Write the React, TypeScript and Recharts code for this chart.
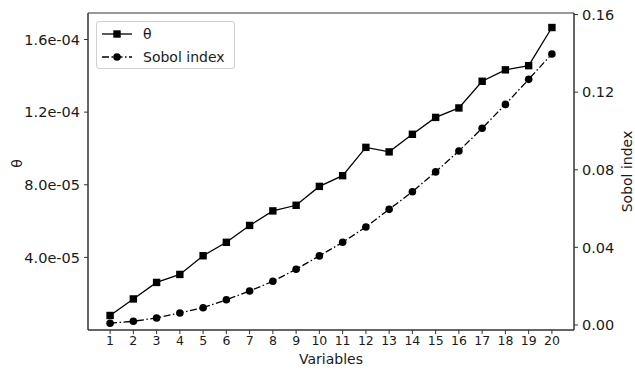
import {
  ComposedChart,
  Line,
  XAxis,
  YAxis,
  Legend,
  ReferenceArea,
} from 'recharts';

const variables = [1, 2, 3, 4, 5, 6, 7, 8, 9, 10, 11, 12, 13, 14, 15, 16, 17, 18, 19, 20];
const thetaValues = [
  8.0e-6, 1.71e-5, 2.62e-5, 3.06e-5, 4.09e-5, 4.83e-5, 5.76e-5, 6.56e-5, 6.87e-5, 7.91e-5,
  8.5e-5, 1.006e-4, 9.81e-5, 1.078e-4, 1.171e-4, 1.223e-4, 1.37e-4, 1.433e-4, 1.456e-4, 1.666e-4,
];
const sobolValues = [
  0.0009, 0.0019, 0.0036, 0.0062, 0.0089, 0.013, 0.0175, 0.0225, 0.0287, 0.0356,
  0.0426, 0.0505, 0.0596, 0.0687, 0.0789, 0.0897, 0.1014, 0.1137, 0.1266, 0.1397,
];
const thetaTicks = [4e-5, 8e-5, 1.2e-4, 1.6e-4];
const sobolTicks = [0, 0.04, 0.08, 0.12, 0.16];

const data = variables.map((v, i) => ({ v, theta: thetaValues[i], sobol: sobolValues[i] }));

const FONT = '"DejaVu Sans", sans-serif';
const INK = '#1a1a1a';
const SPINE = '#333';
const THETA_MAX = 1.746e-4;
const DASH_DOT = '7 2.5 1.5 2.5';

// 4e-5 -> "4.0e-05"
const sci = (v: number) => {
  const [m, e] = v.toExponential(1).split('e');
  const n = parseInt(e, 10);
  return `${m}e${n < 0 ? '-' : '+'}${String(Math.abs(n)).padStart(2, '0')}`;
};

// rotated axis title placed at a fixed x inside the axis box
const AxisTitle = (text: string, dxFromLeft: number, dy = 0) => (props: any) => {
  const vb = props.viewBox || {};
  const x = vb.x + dxFromLeft;
  const y = vb.y + vb.height / 2 + dy;
  return (
    <text
      x={x}
      y={y}
      transform={`rotate(-90, ${x}, ${y})`}
      textAnchor="middle"
      dominantBaseline="central"
      fill={INK}
      fontSize={14}
      fontFamily={FONT}
    >
      {text}
    </text>
  );
};

const Square = (props: any) => {
  const { cx, cy, index } = props;
  if (cx == null || cy == null) return <g key={`sq-${index}`} />;
  return <rect key={`sq-${index}`} x={cx - 3.7} y={cy - 3.7} width={7.4} height={7.4} fill="#000" />;
};

const Dot = (props: any) => {
  const { cx, cy, index } = props;
  if (cx == null || cy == null) return <g key={`ci-${index}`} />;
  return <circle key={`ci-${index}`} cx={cx} cy={cy} r={3.8} fill="#000" />;
};

const LegendBox = () => (
  <div
    style={{
      width: 137,
      height: 46,
      border: '1px solid #d0d0d0',
      borderRadius: 3,
      background: 'rgba(255,255,255,0.8)',
      fontFamily: FONT,
      fontSize: 14,
      color: INK,
      position: 'relative',
    }}
  >
    <svg width={40} height={46} style={{ position: 'absolute', left: 0, top: 0 }}>
      <line x1={5} x2={35} y1={12} y2={12} stroke="#000" strokeWidth={1.3} />
      <rect x={16.3} y={8.3} width={7.4} height={7.4} fill="#000" />
      <line x1={5} x2={35} y1={35} y2={35} stroke="#000" strokeWidth={1.3} strokeDasharray={DASH_DOT} />
      <circle cx={20} cy={35} r={3.8} fill="#000" />
    </svg>
    <div style={{ position: 'absolute', left: 46, top: 2, lineHeight: '20px' }}>θ</div>
    <div style={{ position: 'absolute', left: 46, top: 25, lineHeight: '20px' }}>Sobol index</div>
  </div>
);

export default function App() {
  return (
    <div style={{ position: 'absolute', left: 0, top: 0, background: '#fff' }}>
      <ComposedChart
        width={635}
        height={373}
        data={data}
        margin={{ top: 13, right: 0, bottom: 0, left: 0 }}
        style={{ fontFamily: FONT }}
      >
        <XAxis
          dataKey="v"
          type="number"
          domain={[0.05, 20.95]}
          ticks={variables}
          allowDataOverflow
          height={43}
          tickSize={4}
          tickMargin={2}
          stroke={SPINE}
          tick={{ fill: INK, fontSize: 12.5 }}
          label={{ value: 'Variables', position: 'insideBottom', offset: 9, fill: INK, fontSize: 14 }}
        />
        <YAxis
          yAxisId="theta"
          domain={[0, THETA_MAX]}
          ticks={thetaTicks}
          allowDataOverflow
          width={88}
          tickSize={4}
          tickMargin={4}
          stroke={SPINE}
          tickFormatter={sci}
          tick={{ fill: INK, fontSize: 14.5 }}
          label={AxisTitle('θ', 17, -8)}
        />
        <YAxis
          yAxisId="sobol"
          orientation="right"
          domain={[-0.0026, 0.1608]}
          ticks={sobolTicks}
          allowDataOverflow
          width={61}
          tickSize={4}
          tickMargin={4}
          stroke={SPINE}
          tickFormatter={(v: number) => v.toFixed(2)}
          tick={{ fill: INK, fontSize: 14.5 }}
          label={AxisTitle('Sobol index', 53)}
        />
        <ReferenceArea
          yAxisId="theta"
          x1={0.05}
          x2={20.95}
          y1={0}
          y2={THETA_MAX}
          fill="none"
          stroke={SPINE}
          strokeWidth={1}
          ifOverflow="visible"
        />
        <Line
          yAxisId="theta"
          dataKey="theta"
          stroke="#000"
          strokeWidth={1.3}
          dot={Square}
          activeDot={false}
          isAnimationActive={false}
        />
        <Line
          yAxisId="sobol"
          dataKey="sobol"
          stroke="#000"
          strokeWidth={1.3}
          strokeDasharray={DASH_DOT}
          dot={Dot}
          activeDot={false}
          isAnimationActive={false}
        />
        <Legend
          layout="vertical"
          align="center"
          verticalAlign="middle"
          wrapperStyle={{ left: 96, top: 21, width: 139, height: 48 }}
          content={() => <LegendBox />}
        />
      </ComposedChart>
    </div>
  );
}
